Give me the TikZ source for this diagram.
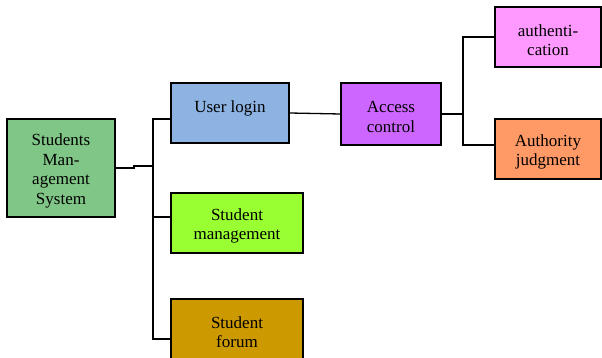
\documentclass[tikz,border=0pt]{standalone}
\usepackage{fontspec}
\setmainfont{Liberation Serif}
\definecolor{smsgreen}{RGB}{128,198,134}
\definecolor{loginblue}{RGB}{141,179,226}
\definecolor{mgmtgreen}{RGB}{153,255,51}
\definecolor{forumgold}{RGB}{204,153,0}
\definecolor{accesspurple}{RGB}{204,102,255}
\definecolor{authpink}{RGB}{255,153,255}
\definecolor{judgeorange}{RGB}{255,153,102}
\begin{document}
\begin{tikzpicture}[x=1pt,y=-1pt,
  box/.style={draw=black, line width=1.4pt, inner sep=0pt},
  txt/.style={inner sep=0pt, align=center, yshift=-3pt,
    font=\fontsize{17}{19.5}\selectfont},
  conn/.style={line width=1.3pt, line join=miter}]
\useasboundingbox (0,0) rectangle (602,358);
\begin{scope}
\clip (0,0) rectangle (602,358);
\node[box, fill=smsgreen, minimum width=108pt, minimum height=98pt,
  label={[txt]center:Students\\Man-\\agement\\System}] (sms) at (61,168) {};
\node[box, fill=loginblue, minimum width=118pt, minimum height=60pt,
  label={[txt]center:User login\\\mbox{}}] (login) at (230,113) {};
\node[box, fill=mgmtgreen, minimum width=132pt, minimum height=60pt,
  label={[txt]center:Student\\management}] (stman) at (237,223) {};
\node[box, fill=forumgold, minimum width=132pt, minimum height=60pt,
  label={[txt]center:Student\\forum}] (forum) at (237,329) {};
\node[box, fill=accesspurple, minimum width=100pt, minimum height=62pt,
  label={[txt]center:Access\\control}] (access) at (391,114) {};
\node[box, fill=authpink, minimum width=106pt, minimum height=60pt,
  label={[txt]center:authenti-\\cation}] (auth) at (548,37) {};
\node[box, fill=judgeorange, minimum width=106pt, minimum height=60pt,
  label={[txt]center:Authority\\judgment}] (judge) at (548,149) {};

\coordinate (j1) at (134,168);
\coordinate (tj) at (153,166);
\coordinate (t1) at (153,119);
\coordinate (tm) at (153,217);
\coordinate (t2) at (153,339);
\coordinate (a0) at (463,114);
\coordinate (a2) at (463,145);

\draw[conn] (sms.east) -- (j1) -- (j1 |- tj) -- (tj);
\draw[conn] (t1 -| login.west) -- (t1) -- (t2) -- (t2 -| forum.west);
\draw[conn] (tm) -- (tm -| stman.west);
\draw[conn] (login.east) -- (access.west);
\draw[conn] (access.east) -- (a0);
\draw[conn] (auth.west) -- (auth.west -| a0) -- (a2) -- (a2 -| judge.west);
\end{scope}
\end{tikzpicture}
\end{document}
